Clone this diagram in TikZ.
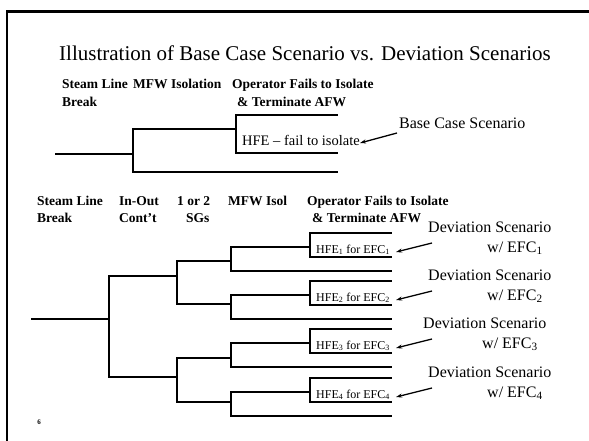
\documentclass[tikz,border=0pt]{standalone}
\usepackage{fontspec}
\setmainfont{Liberation Serif}
\usetikzlibrary{arrows.meta}

\tikzset{
	branch/.style = { line width = 1.3pt },
	hdr/.style = { anchor = base west, inner sep = 0pt,
		font = \fontsize{13.5}{16}\selectfont\bfseries },
	scen/.style = { anchor = base west, inner sep = 0pt,
		font = \fontsize{16}{19}\selectfont },
	hfelbl/.style = { anchor = base west, inner sep = 0pt,
		font = \fontsize{12}{14}\selectfont },
	ptr/.style = { line width = 1.3pt, -{Stealth[length=6pt,width=4pt]} },
}

\begin{document}
\begin{tikzpicture}[ x = 1pt, y = -1pt ]
	\useasboundingbox (0,0) rectangle (589,441);
	\draw [ line width = 2.5pt ] (7,441) -- (7,11.5) -- (589,11.5);

	\node [ anchor = base west, inner sep = 0pt,
		font = \fontsize{21}{24}\selectfont ] (title) at (59,61)
		{Illustration of Base Case Scenario vs. Deviation Scenarios};

	% base case tree
	\node [hdr] (t1a) at (62,89) {Steam Line};
	\node [hdr] (t1b) at (62,106.5) {Break};
	\node [hdr] (t2a) at (133,89) {MFW Isolation};
	\node [hdr] (t3a) at (232,89) {Operator Fails to Isolate};
	\node [hdr] (t3b) at (237,106.5) {\& Terminate AFW};

	\coordinate (s0) at (55,154);
	\coordinate (s1) at (133,154);
	\coordinate (m1) at (236,129);
	\coordinate (e1) at (338,115);
	\coordinate (e2) at (338,153);
	\coordinate (e3) at (338,172);
	\draw [ branch ] (s0) to (s1);
	\draw [ branch ] (s1) |- (m1);
	\draw [ branch ] (s1) |- (e3);
	\draw [ branch ] (m1) |- (e1);
	\draw [ branch ] (m1) |- (e2);

	\node [ anchor = base west, inner sep = 0pt,
		font = \fontsize{14.5}{17}\selectfont ] (hfe) at (242,146)
		{HFE -- fail to isolate};
	\node [scen] (base) at (399,129) {Base Case Scenario};
	\coordinate (bt) at (397,133);
	\draw [ ptr ] (bt) to ([yshift=3pt]hfe.base east);

	% deviation tree
	\node [hdr] (h1a) at (37,205) {Steam Line};
	\node [hdr] (h1b) at (37,222.5) {Break};
	\node [hdr] (h2a) at (119,205) {In-Out};
	\node [hdr] (h2b) at (119,222.5) {Cont't};
	\node [hdr] (h3a) at (177,205) {1 or 2};
	\node [hdr] (h3b) at (186,222.5) {SGs};
	\node [hdr] (h4a) at (228,205) {MFW Isol};
	\node [hdr] (h5a) at (307,205) {Operator Fails to Isolate};
	\node [hdr] (h5b) at (312,222.5) {\& Terminate AFW};

	\coordinate (r0) at (31,319);
	\coordinate (r1) at (109,319);
	\coordinate (a1) at (177,276);
	\coordinate (a2) at (177,377);
	\draw [ branch ] (r0) to (r1);
	\draw [ branch ] (r1) |- (a1);
	\draw [ branch ] (r1) |- (a2);

	\foreach \n/\d/\c/\dx in {1/247/261/428, 2/295/304/428,
			3/343/358/423, 4/392/402/428} {
		\coordinate (c\n) at (231,\c);
		\coordinate (d\n) at (310,\d);
		\coordinate (f\n) at (392,\d+24);
		\coordinate (u\n) at (392,\d-14);
		\coordinate (l\n) at (392,\d+10);
		\draw [ branch ] (c\n) -| (a\ifnum\n<3 1\else 2\fi);
		\draw [ branch ] (c\n) |- (d\n);
		\draw [ branch ] (c\n) |- (f\n);
		\draw [ branch ] (d\n) |- (u\n);
		\draw [ branch ] (d\n) |- (l\n);
		\node [hfelbl] (x\n) at (316,\d+6)
			{HFE\textsubscript{\n} for EFC\textsubscript{\n}};
		\node [scen] (v\n) at (\dx,\d-15) {Deviation Scenario};
		\node [scen] (w\n) at (\dx+59,\d+5) {w/ EFC\textsubscript{\n}};
		\coordinate (p\n) at (432,\d-4);
		\draw [ ptr ] (p\n) to ([xshift=6pt,yshift=1pt]x\n.base east);
	}

	\node [ inner sep = 0pt, font = \fontsize{7}{8}\selectfont\bfseries ]
		(pg) at (39,422) {6};
\end{tikzpicture}
\end{document}
